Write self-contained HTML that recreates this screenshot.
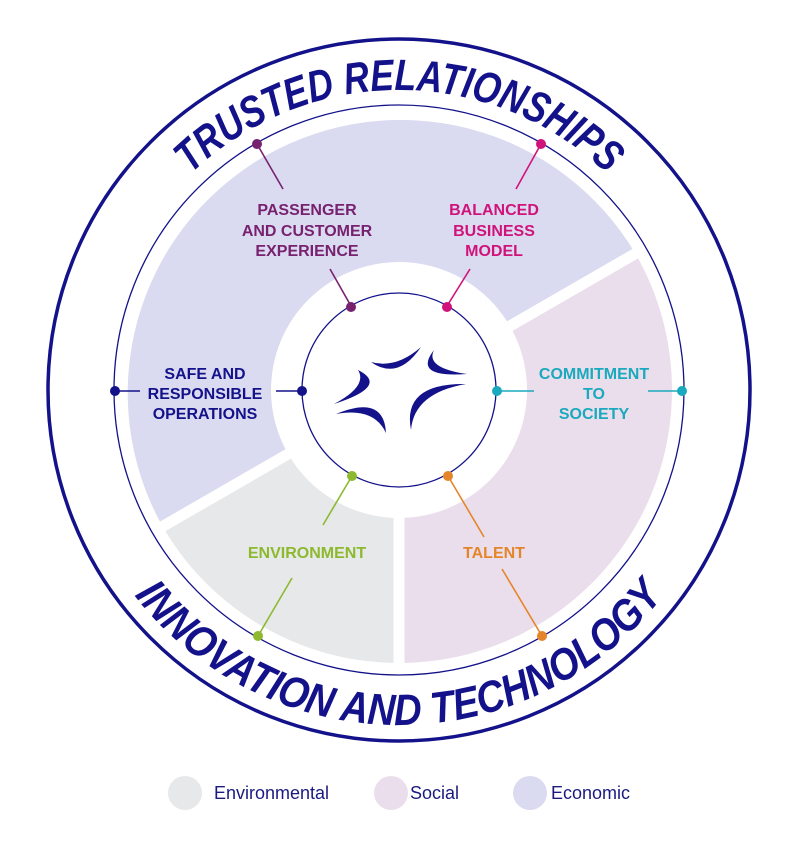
<!DOCTYPE html>
<html><head><meta charset="utf-8"><style>
html,body{margin:0;padding:0;background:#fff;}
svg{display:block;}
.lb{font-family:"Liberation Sans",sans-serif;font-weight:bold;font-size:16px;text-anchor:middle;}
.lg{font-family:"Liberation Sans",sans-serif;font-size:18px;fill:#1b1a80;}
</style></head><body>
<svg width="801" height="851" viewBox="0 0 801 851" xmlns="http://www.w3.org/2000/svg">
<defs>
<path id="top" d="M 99 390 A 300 300 0 0 1 699 390"/>
<path id="bot" d="M 64 390 A 335 335 0 0 0 734 390"/>
</defs>
<circle cx="399" cy="390" r="351" fill="none" stroke="#13128a" stroke-width="3.5"/>
<circle cx="399" cy="390" r="285" fill="none" stroke="#13128a" stroke-width="1.3"/>
<path d="M 162.6 526.5 A 273 273 0 0 1 635.4 253.5 L 507.3 327.5 A 125 125 0 0 0 290.7 452.5 Z" fill="#dadaf0"/>
<path d="M 635.4 253.5 A 273 273 0 0 1 399 663 L 399 515 A 125 125 0 0 0 507.3 327.5 Z" fill="#ebdeec"/>
<path d="M 399 663 A 273 273 0 0 1 162.6 526.5 L 290.7 452.5 A 125 125 0 0 0 399 515 Z" fill="#e7e8e9"/>
<g stroke="#fff" stroke-width="11">
<line x1="399" y1="390" x2="159" y2="528.5"/>
<line x1="399" y1="390" x2="639" y2="251.5"/>
<line x1="399" y1="390" x2="399" y2="667"/>
</g>
<circle cx="399" cy="390" r="128" fill="#fff"/>
<circle cx="399" cy="390" r="97" fill="none" stroke="#13128a" stroke-width="1.3"/>
<g fill="#13128a">
<path d="M371,362 Q398,381 421,347 Q396,369 371,362Z"/>
<path d="M434,350 Q412,378 467,374 Q425,368 434,350Z"/>
<path d="M358,370 Q390,386 334,404 Q368,386 358,370Z"/>
<path d="M336,414 Q384,394 386,433 Q374,407 336,414Z"/>
<path d="M411,430 Q402,383 466,384 Q414,393 411,430Z"/>
</g>
<text font-family="Liberation Sans,sans-serif" font-weight="bold" font-style="italic" font-size="44" fill="#13128a"><textPath href="#top" startOffset="50%" text-anchor="middle" textLength="460" lengthAdjust="spacingAndGlyphs">TRUSTED RELATIONSHIPS</textPath></text>
<text font-family="Liberation Sans,sans-serif" font-weight="bold" font-style="italic" font-size="44" fill="#13128a"><textPath href="#bot" startOffset="50%" text-anchor="middle" textLength="610" lengthAdjust="spacingAndGlyphs">INNOVATION AND TECHNOLOGY</textPath></text>
<g stroke-width="1.6">
<line x1="257" y1="144" x2="283" y2="189" stroke="#77216f"/>
<line x1="330" y1="269" x2="351" y2="306" stroke="#77216f"/>
<line x1="541" y1="144" x2="516" y2="189" stroke="#d0137a"/>
<line x1="470" y1="269" x2="447" y2="306" stroke="#d0137a"/>
<line x1="115" y1="391" x2="140" y2="391" stroke="#13128a"/>
<line x1="276" y1="391" x2="302" y2="391" stroke="#13128a"/>
<line x1="497" y1="391" x2="534" y2="391" stroke="#1aa9bd"/>
<line x1="648" y1="391" x2="682" y2="391" stroke="#1aa9bd"/>
<line x1="352" y1="476" x2="323" y2="525" stroke="#8db92e"/>
<line x1="292" y1="578" x2="258" y2="636" stroke="#8db92e"/>
<line x1="448" y1="476" x2="484" y2="537" stroke="#e5852a"/>
<line x1="502" y1="569" x2="542" y2="636" stroke="#e5852a"/>
</g>
<g>
<circle cx="257" cy="144" r="5" fill="#77216f"/><circle cx="351" cy="307" r="5" fill="#77216f"/>
<circle cx="541" cy="144" r="5" fill="#d0137a"/><circle cx="447" cy="307" r="5" fill="#d0137a"/>
<circle cx="115" cy="391" r="5" fill="#13128a"/><circle cx="302" cy="391" r="5" fill="#13128a"/>
<circle cx="497" cy="391" r="5" fill="#1aa9bd"/><circle cx="682" cy="391" r="5" fill="#1aa9bd"/>
<circle cx="352" cy="476" r="5" fill="#8db92e"/><circle cx="258" cy="636" r="5" fill="#8db92e"/>
<circle cx="448" cy="476" r="5" fill="#e5852a"/><circle cx="542" cy="636" r="5" fill="#e5852a"/>
</g>
<g fill="#77216f"><text class="lb" x="307" y="215">PASSENGER</text><text class="lb" x="307" y="236">AND CUSTOMER</text><text class="lb" x="307" y="256">EXPERIENCE</text></g>
<g fill="#d0137a"><text class="lb" x="494" y="215">BALANCED</text><text class="lb" x="494" y="236">BUSINESS</text><text class="lb" x="494" y="256">MODEL</text></g>
<g fill="#13128a"><text class="lb" x="205" y="379">SAFE AND</text><text class="lb" x="205" y="399">RESPONSIBLE</text><text class="lb" x="205" y="419">OPERATIONS</text></g>
<g fill="#1aa9bd"><text class="lb" x="594" y="379">COMMITMENT</text><text class="lb" x="594" y="399">TO</text><text class="lb" x="594" y="419">SOCIETY</text></g>
<text class="lb" x="307" y="558" fill="#8db92e">ENVIRONMENT</text>
<text class="lb" x="494" y="558" fill="#e5852a">TALENT</text>
<circle cx="185" cy="793" r="17" fill="#e7e8e9"/>
<text class="lg" x="214" y="799">Environmental</text>
<circle cx="391" cy="793" r="17" fill="#ebdeec"/>
<text class="lg" x="410" y="799">Social</text>
<circle cx="530" cy="793" r="17" fill="#dadaf0"/>
<text class="lg" x="551" y="799">Economic</text>
</svg>
</body></html>
